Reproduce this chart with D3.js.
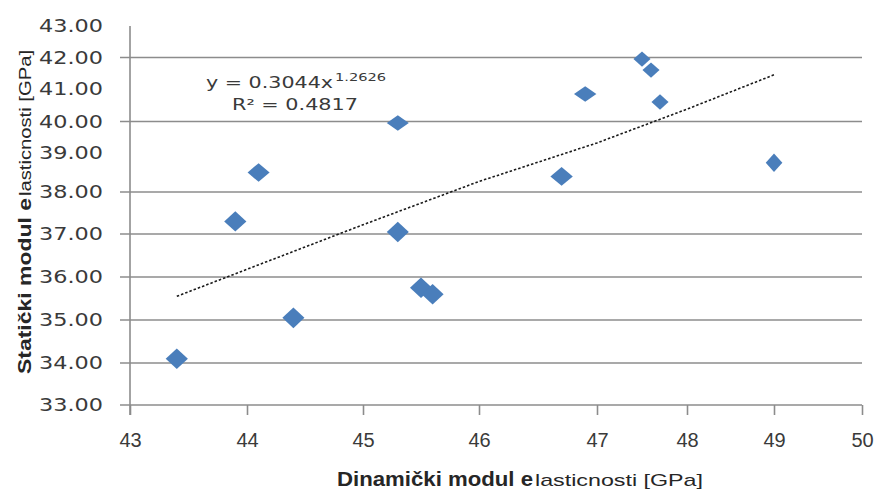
<!DOCTYPE html>
<html>
<head>
<meta charset="utf-8">
<script src="https://cdn.jsdelivr.net/npm/d3@7"></script>
<style>
  html, body { margin: 0; padding: 0; background: #ffffff; }
  svg { display: block; }
</style>
</head>
<body>
<svg id="chart" width="875" height="494"></svg>
<script>
// ---- data ----
const dynamicModulus = [43.4, 43.9, 44.1, 44.4, 45.3, 45.3, 45.5, 45.6, 46.7, 46.9, 47.5, 47.6, 47.7, 49.0];
const staticModulus  = [34.1, 37.3, 38.5, 35.05, 39.95, 37.05, 35.75, 35.6, 38.4, 40.85, 41.95, 41.6, 40.6, 38.75];
const trendX = [43.4, 44, 45, 46, 47, 48, 49];
const trendY = [35.55, 36.18, 37.22, 38.27, 39.32, 40.38, 41.45];
const xTickValues = [43, 44, 45, 46, 47, 48, 49, 50];
const yTickValues = [33, 34, 35, 36, 37, 38, 39, 40, 41, 42, 43];
const gridValues = [34, 35, 36, 37, 38, 40, 42];
const equationMain = "y = 0.3044x";
const equationExp = "1.2626";
const r2Text = "R² = 0.4817";
const xTitleBold = "Dinamički modul e";
const xTitleRest = "lasticnosti [GPa]";
const yTitleBold = "Statički modul e";
const yTitleRest = "lasticnosti [GPa]";

const points = dynamicModulus.map((x, i) => ({ x, y: staticModulus[i] }));
const trend = trendX.map((x, i) => ({ x, y: trendY[i] }));

const svg = d3.select("#chart");

// The reference picture is unevenly stretched, so the scales are piecewise linear
const x = d3.scaleLinear()
  .domain(xTickValues)
  .range([130, 247, 363, 479, 597, 687, 774, 862]);
const y = d3.scaleLinear()
  .domain(yTickValues)
  .range([405, 363, 320, 277, 234, 192, 153, 121.5, 89, 57.5, 26]);

const gridColor = "#8c8c8c";
const textColor = "#3a3a3a";

// gridlines
svg.append("g").selectAll("line")
  .data(gridValues)
  .join("line")
  .attr("x1", x(43) - 10)
  .attr("x2", x(50))
  .attr("y1", d => y(d))
  .attr("y2", d => y(d))
  .attr("stroke", gridColor)
  .attr("stroke-width", 1.6);

// x axis
const xAxis = svg.append("g")
  .attr("transform", `translate(0,${y(33)})`)
  .call(d3.axisBottom(x).tickValues(xTickValues).tickSize(10).tickFormat(d3.format("d")));
xAxis.select(".domain").remove();
xAxis.selectAll(".tick line").attr("stroke", gridColor).attr("stroke-width", 1.6);
xAxis.selectAll(".tick text")
  .attr("y", 42)
  .attr("dy", 0)
  .attr("fill", textColor)
  .style("font-family", "'Liberation Sans', Arial, sans-serif")
  .style("font-size", "20px");
svg.append("line")
  .attr("x1", x(43) - 10).attr("x2", x(50))
  .attr("y1", y(33)).attr("y2", y(33))
  .attr("stroke", gridColor).attr("stroke-width", 1.6);

// y axis line
svg.append("line")
  .attr("x1", x(43)).attr("x2", x(43))
  .attr("y1", y(43)).attr("y2", y(33) + 10)
  .attr("stroke", gridColor).attr("stroke-width", 1.6);

// y tick labels
const yAxis = svg.append("g")
  .attr("transform", `translate(${x(43)},0)`)
  .call(d3.axisLeft(y).tickValues(yTickValues).tickSize(0).tickFormat(d3.format(".2f")));
yAxis.select(".domain").remove();
yAxis.selectAll(".tick text")
  .attr("x", -27)
  .attr("fill", textColor)
  .attr("textLength", 64)
  .attr("lengthAdjust", "spacingAndGlyphs")
  .style("font-family", "'DejaVu Sans', Verdana, sans-serif")
  .style("font-size", "18px");

// trend line (dotted)
svg.append("path")
  .datum(trend)
  .attr("fill", "none")
  .attr("stroke", "#1a1a1a")
  .attr("stroke-width", 1.6)
  .attr("stroke-dasharray", "2.5,2")
  .attr("d", d3.line().x(d => x(d.x)).y(d => y(d.y)));

// diamond markers
const hw = 0.095, hh = 0.24;
svg.append("g").selectAll("polygon")
  .data(points)
  .join("polygon")
  .attr("points", d => [
    [x(d.x), y(d.y + hh)],
    [x(d.x + hw), y(d.y)],
    [x(d.x), y(d.y - hh)],
    [x(d.x - hw), y(d.y)]
  ].map(p => p.join(",")).join(" "))
  .attr("fill", "#4a7ebb");

// equation
const eqFont = "'DejaVu Sans', Verdana, sans-serif";
svg.append("text")
  .attr("x", 206).attr("y", 88)
  .attr("textLength", 127).attr("lengthAdjust", "spacingAndGlyphs")
  .attr("fill", textColor)
  .style("font-family", eqFont).style("font-size", "15px")
  .text(equationMain);
svg.append("text")
  .attr("x", 335).attr("y", 81)
  .attr("textLength", 51).attr("lengthAdjust", "spacingAndGlyphs")
  .attr("fill", textColor)
  .style("font-family", eqFont).style("font-size", "11px")
  .text(equationExp);
svg.append("text")
  .attr("x", 232).attr("y", 110)
  .attr("textLength", 126).attr("lengthAdjust", "spacingAndGlyphs")
  .attr("fill", textColor)
  .style("font-family", eqFont).style("font-size", "15px")
  .text(r2Text);

// x axis title
const titleFont = "'Liberation Sans', Arial, sans-serif";
svg.append("text")
  .attr("x", 337).attr("y", 486)
  .attr("textLength", 196).attr("lengthAdjust", "spacingAndGlyphs")
  .attr("fill", "#262626")
  .style("font-family", titleFont).style("font-size", "20px").style("font-weight", "bold")
  .text(xTitleBold);
svg.append("text")
  .attr("x", 535).attr("y", 486)
  .attr("textLength", 168).attr("lengthAdjust", "spacingAndGlyphs")
  .attr("fill", "#262626")
  .style("font-family", titleFont).style("font-size", "17px")
  .text(xTitleRest);

// y axis title
const yTitle = svg.append("g").attr("transform", "translate(31,374) rotate(-90)");
yTitle.append("text")
  .attr("x", 0).attr("y", 0)
  .attr("textLength", 176).attr("lengthAdjust", "spacingAndGlyphs")
  .attr("fill", "#262626")
  .style("font-family", titleFont).style("font-size", "19px").style("font-weight", "bold")
  .text(yTitleBold);
yTitle.append("text")
  .attr("x", 178).attr("y", 0)
  .attr("textLength", 146).attr("lengthAdjust", "spacingAndGlyphs")
  .attr("fill", "#262626")
  .style("font-family", titleFont).style("font-size", "16px")
  .text(yTitleRest);
</script>
</body>
</html>
